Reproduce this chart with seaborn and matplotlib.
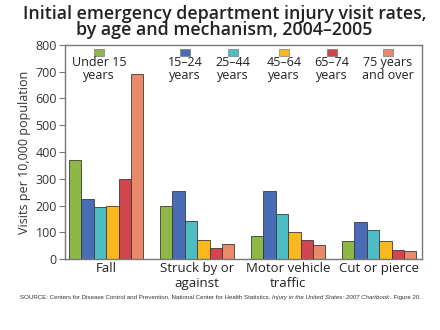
import matplotlib
matplotlib.use("Agg")
import matplotlib.pyplot as plt
import seaborn as sns
import pandas as pd
from matplotlib.patches import Rectangle

categories = ["Fall", "Struck by or\nagainst", "Motor vehicle\ntraffic", "Cut or pierce"]
age_groups = ["Under 15\nyears", "15–24\nyears", "25–44\nyears", "45–64\nyears", "65–74\nyears", "75 years\nand over"]
under15 = [370, 199, 87, 67]
age15_24 = [223, 255, 254, 138]
age25_44 = [193, 142, 168, 107]
age45_64 = [197, 73, 100, 67]
age65_74 = [300, 42, 73, 34]
age75plus = [690, 58, 52, 30]
yticks = [0, 100, 200, 300, 400, 500, 600, 700, 800]

series = [under15, age15_24, age25_44, age45_64, age65_74, age75plus]
rows = []
for g, vals in zip(age_groups, series):
    for c, v in zip(categories, vals):
        rows.append({"mechanism": c, "age": g, "rate": v})
df = pd.DataFrame(rows)

colors = ["#8DB846", "#4A6CB4", "#4DBDC3", "#F9B91E", "#D2454F", "#E98A6B"]

sns.set_style("white")
plt.rcParams["font.family"] = ["Open Sans", "DejaVu Sans"]

fig = plt.figure(figsize=(4.4, 3.3), dpi=100)
ax = fig.add_axes([0.148, 0.215, 0.811, 0.649])
sns.barplot(data=df, x="mechanism", y="rate", hue="age", order=categories,
            hue_order=age_groups, palette=colors, width=0.82, ax=ax, saturation=1,
            edgecolor="#3a3a3a", linewidth=0.6, legend=False)

ax.set_ylim(0, 800)
ax.set_xlim(-0.45, 3.47)
ax.set_yticks(yticks)
ax.set_yticklabels([str(t) for t in yticks], fontsize=9, color="#333333")
ax.tick_params(axis="y", length=4, width=0.8, color="#777777", pad=2, left=True)
ax.tick_params(axis="x", length=0, labelsize=9.5, labelcolor="#222222", pad=2)
ax.set_xlabel("")
ax.set_ylabel("Visits per 10,000 population", fontsize=9, color="#333333", labelpad=3)
for s in ax.spines.values():
    s.set_color("#777777")
    s.set_linewidth(1.0)
    s.set_visible(True)

# legend: patch above text
leg_x = [99, 185, 233, 284, 332, 388]
for xc, lab, col in zip(leg_x, age_groups, colors):
    fx = xc / 440
    fig.patches.append(Rectangle((fx - 5 / 440, 1 - 56 / 330), 10 / 440, 7 / 330,
                                 transform=fig.transFigure, facecolor=col,
                                 edgecolor="#666666", linewidth=0.4))
    fig.text(fx, 1 - 69 / 330, lab, ha="center", va="center", fontsize=9,
             color="#222222", linespacing=0.95)

fig.text(0.51, 1 - 22 / 330, "Initial emergency department injury visit rates,\nby age and mechanism, 2004–2005",
         ha="center", va="center", fontsize=12.8, fontweight="semibold", color="#222222",
         linespacing=0.92)

# source line with italic part
fig.canvas.draw()
renderer = fig.canvas.get_renderer()
parts = [("SOURCE: Centers for Disease Control and Prevention, National Center for Health Statistics, ", "normal"),
         ("Injury in the United States: 2007 Chartbook", "italic"),
         (". Figure 20.", "normal")]
x = 20 / 440
y = 1 - 297 / 330
for txt, style in parts:
    t = fig.text(x, y, txt, ha="left", va="center", fontsize=4.45, style=style,
                 color="#333333", family=["Liberation Sans", "DejaVu Sans"])
    bb = t.get_window_extent(renderer=renderer)
    x = (bb.x1) / fig.bbox.width

fig.savefig("out.png", dpi=100)
